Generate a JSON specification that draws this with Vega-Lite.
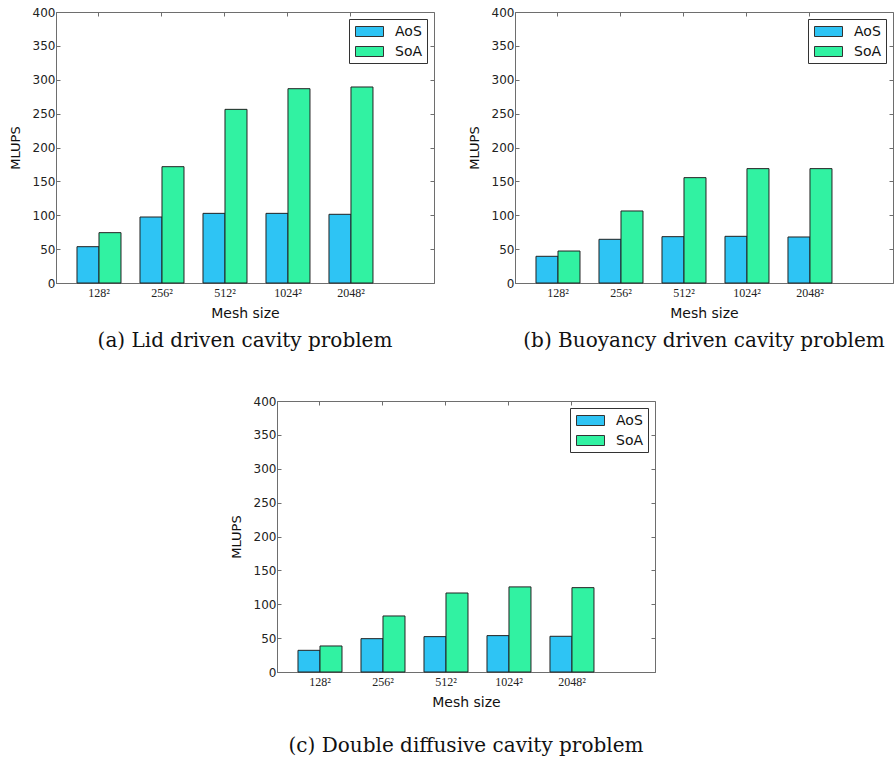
{
  "$schema": "https://vega.github.io/schema/vega-lite/v6.json",
  "padding": {"left": 8, "top": 5, "right": 0, "bottom": 0},
  "background": "white",
  "datasets": {
    "a": [
      {"mesh": "128²", "layout": "AoS", "mlups": 53.6}, {"mesh": "128²", "layout": "SoA", "mlups": 74.3},
      {"mesh": "256²", "layout": "AoS", "mlups": 97.4}, {"mesh": "256²", "layout": "SoA", "mlups": 171.7},
      {"mesh": "512²", "layout": "AoS", "mlups": 102.8}, {"mesh": "512²", "layout": "SoA", "mlups": 256.3},
      {"mesh": "1024²", "layout": "AoS", "mlups": 102.8}, {"mesh": "1024²", "layout": "SoA", "mlups": 286.8},
      {"mesh": "2048²", "layout": "AoS", "mlups": 101.4}, {"mesh": "2048²", "layout": "SoA", "mlups": 289.3}
    ],
    "b": [
      {"mesh": "128²", "layout": "AoS", "mlups": 39.4}, {"mesh": "128²", "layout": "SoA", "mlups": 47.2},
      {"mesh": "256²", "layout": "AoS", "mlups": 64.5}, {"mesh": "256²", "layout": "SoA", "mlups": 106.3},
      {"mesh": "512²", "layout": "AoS", "mlups": 68.4}, {"mesh": "512²", "layout": "SoA", "mlups": 155.5},
      {"mesh": "1024²", "layout": "AoS", "mlups": 68.9}, {"mesh": "1024²", "layout": "SoA", "mlups": 168.8},
      {"mesh": "2048²", "layout": "AoS", "mlups": 67.9}, {"mesh": "2048²", "layout": "SoA", "mlups": 168.8}
    ],
    "c": [
      {"mesh": "128²", "layout": "AoS", "mlups": 32.0}, {"mesh": "128²", "layout": "SoA", "mlups": 38.4},
      {"mesh": "256²", "layout": "AoS", "mlups": 49.2}, {"mesh": "256²", "layout": "SoA", "mlups": 82.7},
      {"mesh": "512²", "layout": "AoS", "mlups": 52.2}, {"mesh": "512²", "layout": "SoA", "mlups": 116.6},
      {"mesh": "1024²", "layout": "AoS", "mlups": 53.7}, {"mesh": "1024²", "layout": "SoA", "mlups": 125.6},
      {"mesh": "2048²", "layout": "AoS", "mlups": 52.7}, {"mesh": "2048²", "layout": "SoA", "mlups": 124.5}
    ],
    "empty": []
  },
  "vconcat": [
    {
      "hconcat": [
        {
          "width": 378, "height": 271,
          "data": {"name": "a"},
          "title": {"text": "(a) Lid driven cavity problem", "orient": "bottom", "offset": 11},
          "layer": [
            {
              "mark": {"type": "bar", "stroke": "#222", "strokeWidth": 1},
              "encoding": {
                "x": {"field": "mesh", "type": "nominal", "sort": null, "title": "Mesh size",
                      "scale": {"paddingInner": 0.3016, "paddingOuter": 0.651, "align": 0.256}},
                "xOffset": {"field": "layout", "type": "nominal", "scale": {"paddingInner": 0, "paddingOuter": 0}},
                "y": {"field": "mlups", "type": "quantitative", "title": "MLUPS", "scale": {"domain": [0, 400]}, "axis": {"values": [0,50,100,150,200,250,300,350,400]}},
                "color": {"field": "layout", "type": "nominal", "title": null, "scale": {"domain": ["AoS", "SoA"], "range": ["#2ec4f4", "#31f2a2"]}}
              }
            },
            {
              "mark": {"type": "bar", "opacity": 0},
              "encoding": {
                "x": {"field": "mesh", "type": "nominal", "sort": null, "axis": {"orient": "top", "labels": false, "title": null, "domain": false}},
                "xOffset": {"field": "layout", "type": "nominal"},
                "y": {"field": "mlups", "type": "quantitative", "axis": {"orient": "right", "labels": false, "title": null, "domain": false, "values": [0,50,100,150,200,250,300,350,400]}}
              }
            }
          ],
          "resolve": {"axis": {"x": "independent", "y": "independent"}}
        },
        {
          "width": 378, "height": 271,
          "data": {"name": "b"},
          "title": {"text": "(b) Buoyancy driven cavity problem", "orient": "bottom", "offset": 11},
          "layer": [
            {
              "mark": {"type": "bar", "stroke": "#222", "strokeWidth": 1},
              "encoding": {
                "x": {"field": "mesh", "type": "nominal", "sort": null, "title": "Mesh size",
                      "scale": {"paddingInner": 0.3016, "paddingOuter": 0.651, "align": 0.256}},
                "xOffset": {"field": "layout", "type": "nominal", "scale": {"paddingInner": 0, "paddingOuter": 0}},
                "y": {"field": "mlups", "type": "quantitative", "title": "MLUPS", "scale": {"domain": [0, 400]}, "axis": {"values": [0,50,100,150,200,250,300,350,400]}},
                "color": {"field": "layout", "type": "nominal", "title": null, "scale": {"domain": ["AoS", "SoA"], "range": ["#2ec4f4", "#31f2a2"]}}
              }
            },
            {
              "mark": {"type": "bar", "opacity": 0},
              "encoding": {
                "x": {"field": "mesh", "type": "nominal", "sort": null, "axis": {"orient": "top", "labels": false, "title": null, "domain": false}},
                "xOffset": {"field": "layout", "type": "nominal"},
                "y": {"field": "mlups", "type": "quantitative", "axis": {"orient": "right", "labels": false, "title": null, "domain": false, "values": [0,50,100,150,200,250,300,350,400]}}
              }
            }
          ],
          "resolve": {"axis": {"x": "independent", "y": "independent"}}
        }
      ],
      "spacing": 32,
      "resolve": {"legend": {"color": "independent"}}
    },
    {
      "hconcat": [
        {
          "width": 173, "height": 10,
          "data": {"name": "empty"},
          "view": {"stroke": null},
          "mark": {"type": "point"},
          "encoding": {}
        },
        {
          "width": 378, "height": 271,
          "data": {"name": "c"},
          "title": {"text": "(c) Double diffusive cavity problem", "orient": "bottom", "offset": 27},
          "layer": [
            {
              "mark": {"type": "bar", "stroke": "#222", "strokeWidth": 1},
              "encoding": {
                "x": {"field": "mesh", "type": "nominal", "sort": null, "title": "Mesh size",
                      "scale": {"paddingInner": 0.3016, "paddingOuter": 0.651, "align": 0.256}},
                "xOffset": {"field": "layout", "type": "nominal", "scale": {"paddingInner": 0, "paddingOuter": 0}},
                "y": {"field": "mlups", "type": "quantitative", "title": "MLUPS", "scale": {"domain": [0, 400]}, "axis": {"values": [0,50,100,150,200,250,300,350,400]}},
                "color": {"field": "layout", "type": "nominal", "title": null, "scale": {"domain": ["AoS", "SoA"], "range": ["#2ec4f4", "#31f2a2"]}}
              }
            },
            {
              "mark": {"type": "bar", "opacity": 0},
              "encoding": {
                "x": {"field": "mesh", "type": "nominal", "sort": null, "axis": {"orient": "top", "labels": false, "title": null, "domain": false}},
                "xOffset": {"field": "layout", "type": "nominal"},
                "y": {"field": "mlups", "type": "quantitative", "axis": {"orient": "right", "labels": false, "title": null, "domain": false, "values": [0,50,100,150,200,250,300,350,400]}}
              }
            }
          ],
          "resolve": {"axis": {"x": "independent", "y": "independent"}}
        }
      ],
      "spacing": 0,
      "resolve": {"legend": {"color": "independent"}}
    }
  ],
  "spacing": 42,
  "resolve": {"legend": {"color": "independent"}},
  "config": {
    "view": {"stroke": "#6e6e6e", "strokeWidth": 1},
    "title": {"font": "DejaVu Serif", "fontSize": 20, "fontWeight": "normal", "color": "#111"},
    "axis": {
      "grid": false,
      "domainColor": "#6e6e6e",
      "tickColor": "#6e6e6e",
      "tickSize": -4,
      "labelFont": "DejaVu Sans", "labelFontSize": 12, "labelColor": "#222",
      "titleFont": "DejaVu Sans", "titleFontSize": 14, "titleFontWeight": "normal", "titleColor": "#111"
    },
    "axisX": {"labelAngle": 0, "labelFont": "Liberation Serif", "labelFontSize": 12, "labelPadding": 8, "titlePadding": 8},
    "axisY": {"labelPadding": 5, "titlePadding": 10, "titleFontSize": 13},
    "legend": {
      "orient": "top-right",
      "offset": 7,
      "strokeColor": "#333",
      "fillColor": "white",
      "padding": 4,
      "labelFont": "DejaVu Sans",
      "labelFontSize": 14,
      "labelColor": "#111",
      "labelOffset": 25,
      "symbolType": "M-0.75,-0.625L2.75,-0.625L2.75,0.625L-0.75,0.625Z",
      "symbolSize": 256,
      "symbolStrokeColor": "#333",
      "symbolStrokeWidth": 1,
      "symbolOpacity": 1,
      "rowPadding": 4
    }
  }
}
